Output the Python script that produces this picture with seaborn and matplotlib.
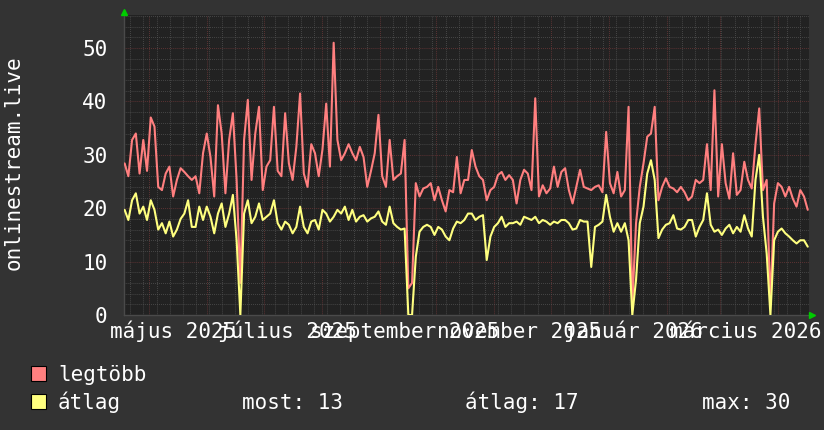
import numpy as np
import pandas as pd
import matplotlib
matplotlib.use('Agg')
import matplotlib.pyplot as plt
import matplotlib.dates as mdates
from matplotlib.ticker import MultipleLocator
from matplotlib.patches import Rectangle
import seaborn as sns

# daily-ish samples (every ~2 days)
legtobb = [
    28.4, 26, 32.8, 34, 26.5, 32.8, 27, 37, 35.3, 24,
    23.4, 26.5, 27.8, 22.2, 25.3, 27.5, 26.8, 26, 25.3, 26,
    22.8, 30.3, 34, 29.6, 22.2, 39.3, 34, 22.8, 32.8, 37.8,
    25.3, 6, 32.8, 40.3, 25.3, 34, 39, 23.4, 27.8, 29,
    39, 27, 26, 37.8, 28.4, 25.3, 31.5, 41.5, 26.5, 24,
    32, 30.3, 26, 31, 39.6, 27.8, 51, 32.8, 29, 30.3,
    32, 30.3, 29, 31.5, 29.6, 24, 27, 30.3, 37.5, 26,
    24, 32.8, 25.3, 26, 26.5, 32.8, 5, 6, 24.7, 22.2,
    23.7, 24, 24.7, 21.5, 24, 21.5, 19.4, 23.4, 23, 29.6,
    22.8, 25.3, 25.3, 30.9, 27.8, 26, 25.3, 21.5, 23.4, 24,
    26.2, 26.8, 25.3, 26.2, 25.3, 20.9, 25.3, 27.2, 26.5, 23.4,
    40.6, 22.2, 24.3, 22.8, 23.7, 27.8, 24, 26.8, 27.5, 23.4,
    20.9, 24, 27.2, 24, 23.7, 23.4, 24, 24.3, 23, 34.3,
    24.7, 22.8, 26.8, 22.2, 23.4, 39, 2, 17.2, 24, 28.4,
    33.4, 34, 39, 21.5, 24, 25.6, 24, 23.7, 23, 24,
    23, 21.5, 22.2, 25.3, 24.7, 25.3, 32, 23.4, 42.1, 22.2,
    32, 24.7, 21.8, 30.3, 22.5, 23.4, 28.7, 25.3, 23.7, 32,
    38.7, 23.4, 25.3, 2, 20.9, 24.7, 24, 22.2, 24, 21.8,
    20.3, 23.4, 22.2, 19.7,
]
atlag = [
    19.7, 17.8, 21.5, 22.8, 19, 20.3, 17.8, 21.5, 19.7, 16,
    17.2, 15.3, 17.5, 14.7, 16, 18, 19, 21.5, 16.5, 16.5,
    20.3, 17.8, 20.3, 18.4, 15.3, 19, 20.9, 16.5, 19, 22.5,
    14, 0, 19, 21.5, 17.2, 18.4, 20.9, 17.8, 18.4, 19,
    21.5, 17.2, 16, 17.5, 16.9, 15.3, 16.5, 20.3, 16.5, 15.3,
    17.5, 17.8, 16, 19.7, 19, 17.5, 18.4, 19.7, 19, 20.3,
    17.8, 19.7, 17.5, 18.4, 18.7, 17.5, 18.1, 18.4, 19.4, 17.5,
    16.9, 20.3, 17.2, 16.5, 16, 16.2, 0, 0, 10.9, 15.6,
    16.5, 16.9, 16.5, 15, 16.5, 16, 14.7, 14, 16.2, 17.5,
    17.2, 17.8, 19, 19, 17.8, 18.4, 18.7, 10.3, 14.7, 16.5,
    17.2, 18.4, 16.5, 17.2, 17.2, 17.5, 16.9, 18.4, 18.1, 17.8,
    18.4, 17.2, 17.8, 17.5, 16.9, 17.5, 17.2, 17.8, 17.8, 17.2,
    16, 16.2, 17.8, 17.5, 17.5, 9, 16.5, 16.9, 17.5, 22.5,
    18.4, 15.6, 17.2, 15.6, 17.2, 14, 0, 6.6, 17.2, 20.3,
    26.5, 29, 25.3, 14.4, 16, 16.9, 17.2, 18.7, 16.2, 16,
    16.5, 17.8, 17.8, 14.7, 16.5, 17.8, 22.8, 16.9, 15.6, 16,
    15, 16.2, 16.9, 15.3, 16.5, 15.6, 18.7, 16.2, 14.7, 25.3,
    30, 18.4, 11.5, 0, 14, 15.6, 16.2, 15.3, 14.7, 14,
    13.4, 14, 14, 12.8,
]

month_labels = ['május 2025', 'július 2025', 'szeptember 2025',
                'november 2025', 'január 2026', 'március 2026']
label_dates = ['2025-05-14', '2025-07-14', '2025-09-14',
               '2025-11-14', '2026-01-14', '2026-03-15']

stats_labels = ['most: 13', 'átlag: 17', 'max: 30']

RED = '#ff7f7f'
YEL = '#ffff7f'
BG = '#333333'
CANVAS = '#222222'
MINOR = '#555555'
MAJOR = '#74393a'

sns.set_theme(style='dark')
plt.rcParams['font.family'] = ['DejaVu Sans Mono', 'DejaVu Sans']
FS = 15

dates = pd.date_range('2025-04-18', '2026-04-17', periods=len(legtobb))
df = pd.DataFrame({'date': dates, 'legtöbb': legtobb, 'átlag': atlag})
long_df = df.melt('date', var_name='sor', value_name='ertek')

fig = plt.figure(figsize=(8.24, 4.30), dpi=100, facecolor=BG)
ax = fig.add_axes([124 / 824, 1 - 315 / 430, 685 / 824, 300 / 430])
ax.set_facecolor(CANVAS)

sns.lineplot(data=long_df, x='date', y='ertek', hue='sor',
             palette={'legtöbb': RED, 'átlag': YEL}, linewidth=1.5,
             errorbar=None, legend=False, ax=ax, zorder=3)

ax.set_xlim(pd.Timestamp('2025-04-17 16:00'), pd.Timestamp('2026-04-17 16:00'))
ax.set_ylim(0, 56.2)
ax.set_xlabel('')
ax.set_ylabel('')

# grid: weekly / monthly on x, 2 / 10 on y
ax.xaxis.set_major_locator(mdates.MonthLocator())
ax.xaxis.set_minor_locator(mdates.WeekdayLocator(byweekday=mdates.MO))
ax.yaxis.set_major_locator(MultipleLocator(10))
ax.yaxis.set_minor_locator(MultipleLocator(2))
ax.set_axisbelow(True)
ax.grid(which='minor', color=MINOR, linestyle=(0, (0.7, 1.4)), linewidth=0.7)
ax.grid(which='major', color=MAJOR, linestyle=(0, (0.7, 1.4)), linewidth=0.7)

ax.tick_params(axis='x', which='both', labelbottom=False, direction='out')
ax.tick_params(axis='x', which='major', length=3, color=MAJOR, width=0.8)
ax.tick_params(axis='x', which='minor', length=2, color=MINOR, width=0.8)
ax.tick_params(axis='y', which='major', length=2, color=MAJOR, width=0.8,
               labelsize=FS, labelcolor='white', pad=10)
ax.tick_params(axis='y', which='minor', length=1.5, color=MINOR, width=0.8)

for side in ['top', 'right']:
    ax.spines[side].set_visible(False)
for side in ['left', 'bottom']:
    ax.spines[side].set_color('#4a4a4a')
    ax.spines[side].set_linewidth(1)

# month labels under the axis
xtrans = ax.get_xaxis_transform()
for lab, d in zip(month_labels, label_dates):
    ax.text(pd.Timestamp(d), -23 / 300, lab, transform=xtrans, ha='center',
            va='baseline', fontsize=FS, color='white', clip_on=False)

# axis arrows
ax.plot([0], [1 + 3 / 300], marker='^', markersize=5, color='#00cc00',
        transform=ax.transAxes, clip_on=False, zorder=5)
ax.plot([1 + 3 / 685], [0], marker='>', markersize=5, color='#00cc00',
        transform=ax.transAxes, clip_on=False, zorder=5)

fig.text(14 / 824, 1 - 163 / 430, 'onlinestream.live', rotation=90,
         ha='center', va='center', fontsize=FS, color='white')

# legend rows
W, H = 824, 430
for (name, col), top in zip([('legtöbb', RED), ('átlag', YEL)], [366, 394]):
    fig.patches.append(Rectangle((31 / W, 1 - (top + 15) / H), 15 / W, 15 / H,
                                 transform=fig.transFigure, facecolor=col,
                                 edgecolor='black', linewidth=0.8))
    fig.text(58 / W, 1 - (top + 15) / H, name, ha='left', va='baseline',
             fontsize=FS, color='white')

for lab, x in zip(stats_labels, [242, 465, 702]):
    fig.text(x / W, 1 - 409 / H, lab, ha='left', va='baseline',
             fontsize=FS, color='white')

fig.savefig('out.png', dpi=100, facecolor=BG)
